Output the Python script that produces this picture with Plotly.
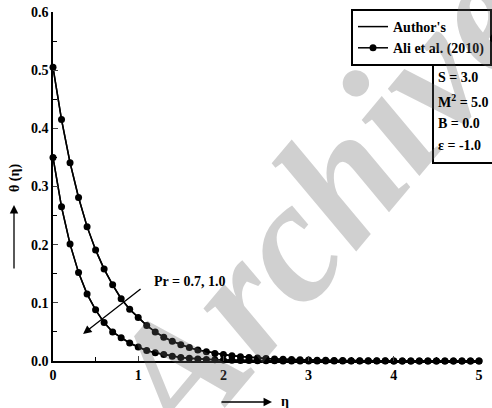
import plotly.graph_objects as go

eta = [round(i * 0.1, 1) for i in range(51)]
theta_pr07 = [0.505, 0.415, 0.341, 0.281, 0.231, 0.191, 0.158, 0.131, 0.107, 0.089, 0.075,
              0.061, 0.050, 0.041, 0.034, 0.028, 0.023, 0.019, 0.016, 0.013, 0.011,
              0.009, 0.0075, 0.0062, 0.0051, 0.0042, 0.0035, 0.0029, 0.0024, 0.0020, 0.0016,
              0.0013, 0.0011, 0.0009, 0.0007, 0.0006, 0.0005, 0.0004, 0.0003, 0.0003, 0.0002,
              0.0002, 0.0001, 0.0001, 0.0001, 0.0001, 0.0, 0.0, 0.0, 0.0, 0.0]
theta_pr10 = [0.350, 0.265, 0.201, 0.152, 0.115, 0.088, 0.066, 0.050, 0.040, 0.031, 0.024,
              0.018, 0.014, 0.011, 0.008, 0.006, 0.0047, 0.0036, 0.0027, 0.0021, 0.0016,
              0.0012, 0.0009, 0.0007, 0.0005, 0.0004, 0.0003, 0.0002, 0.0002, 0.0001, 0.0001,
              0.0001] + [0.0] * 19
x_ticks = [0, 1, 2, 3, 4, 5]
y_ticks = [0.0, 0.1, 0.2, 0.3, 0.4, 0.5, 0.6]
y_tick_labels = ["0.0", "0.1", "0.2", "0.3", "0.4", "0.5", "0.6"]
params = ["S = 3.0", "M<sup>2</sup> = 5.0", "B = 0.0", "ε = -1.0"]

FONT = "Times New Roman, Liberation Serif, serif"
W, H = 492, 408
L, R, T, B = 53, 13, 12, 47
pw, ph = W - L - R, H - T - B

def px(x):
    return (x - L) / pw

def py(y):
    return (H - B - y) / ph

def bf(size=14, color="black"):
    return dict(family=FONT, size=size, color=color, weight="bold")

fig = go.Figure()
for i, th in enumerate([theta_pr07, theta_pr10]):
    fig.add_trace(go.Scatter(x=eta, y=th, mode="lines", line=dict(color="black", width=1.5),
                             name="Author's", showlegend=(i == 0), cliponaxis=False))
for i, th in enumerate([theta_pr07, theta_pr10]):
    fig.add_trace(go.Scatter(x=eta, y=th, mode="lines+markers",
                             line=dict(color="black", width=1.5),
                             marker=dict(color="black", size=7),
                             name="Ali et al. (2010)", showlegend=(i == 0), cliponaxis=False))

ann = []
# watermark
ann.append(dict(text="<b><i>Archive</i></b>", xref="paper", yref="paper", x=px(318), y=py(205),
                xanchor="center", yanchor="middle",
                showarrow=False, textangle=-50,
                font=dict(family=FONT, size=175, color="rgba(100,100,100,0.3)", weight="bold")))
# Pr annotation
ann.append(dict(text="<b>Pr = 0.7, 1.0</b>", xref="paper", yref="paper", x=px(190), y=py(281),
                xanchor="center", yanchor="middle", showarrow=False, font=bf()))
ann.append(dict(text="", x=(83 - L) / 85, y=(H - B - 334) / 580, xref="x", yref="y",
                ax=59, ay=-46, showarrow=True, arrowhead=2, arrowsize=1.3, arrowwidth=1.3,
                arrowcolor="black"))
# y title
ann.append(dict(text="<b>θ (η)</b>", xref="paper", yref="paper", x=px(15), y=py(178),
                xanchor="center", yanchor="middle",
                showarrow=False, textangle=-90, font=bf()))
ann.append(dict(text="", xref="paper", yref="paper", x=px(14), y=py(205), ax=0, ay=65,
                showarrow=True, arrowhead=2, arrowsize=1.3, arrowwidth=1.3, arrowcolor="black"))
# x title
ann.append(dict(text="", xref="paper", yref="paper", x=px(272), y=py(402), ax=-52, ay=0,
                showarrow=True, arrowhead=2, arrowsize=1.3, arrowwidth=1.3, arrowcolor="black"))
ann.append(dict(text="<b>η</b>", xref="paper", yref="paper", x=px(285), y=py(401),
                xanchor="center", yanchor="middle", showarrow=False, font=bf()))
# parameter box
for j, p in enumerate(params):
    ann.append(dict(text="<b>" + p + "</b>", xref="paper", yref="paper", x=px(436), y=py(78 + j * 22.5),
                    xanchor="left", yanchor="middle", showarrow=False, font=bf()))

shapes = [dict(type="rect", xref="paper", yref="paper", x0=px(433), x1=px(500), y0=py(62), y1=py(163),
               line=dict(color="black", width=2), fillcolor="rgba(0,0,0,0)")]

fig.update_layout(
    width=W, height=H, margin=dict(l=L, r=R, t=T, b=B, autoexpand=False),
    paper_bgcolor="white", plot_bgcolor="white",
    font=dict(family=FONT, size=14, color="black"),
    showlegend=True,
    legend=dict(x=px(351), y=py(9), xanchor="left", yanchor="top",
                bordercolor="black", borderwidth=2, bgcolor="white",
                font=bf(), tracegroupgap=0, itemwidth=30),
    annotations=ann, shapes=shapes,
    xaxis=dict(range=[0, 5], tickvals=x_ticks, ticks="inside", ticklen=5, tickwidth=1.3,
               showline=True, linecolor="black", linewidth=1.5, showgrid=False, zeroline=False,
               tickfont=bf(),
               minor=dict(dtick=0.5, ticks="inside", ticklen=4, tickcolor="black")),
    yaxis=dict(range=[0, 0.6], tickvals=y_ticks, ticktext=y_tick_labels, ticks="inside", ticklen=5,
               tickwidth=1.3, showline=True, linecolor="black", linewidth=1.5, showgrid=False,
               zeroline=False, tickfont=bf(),
               minor=dict(dtick=0.05, ticks="inside", ticklen=4, tickcolor="black")),
)
fig.write_html("out.html")
